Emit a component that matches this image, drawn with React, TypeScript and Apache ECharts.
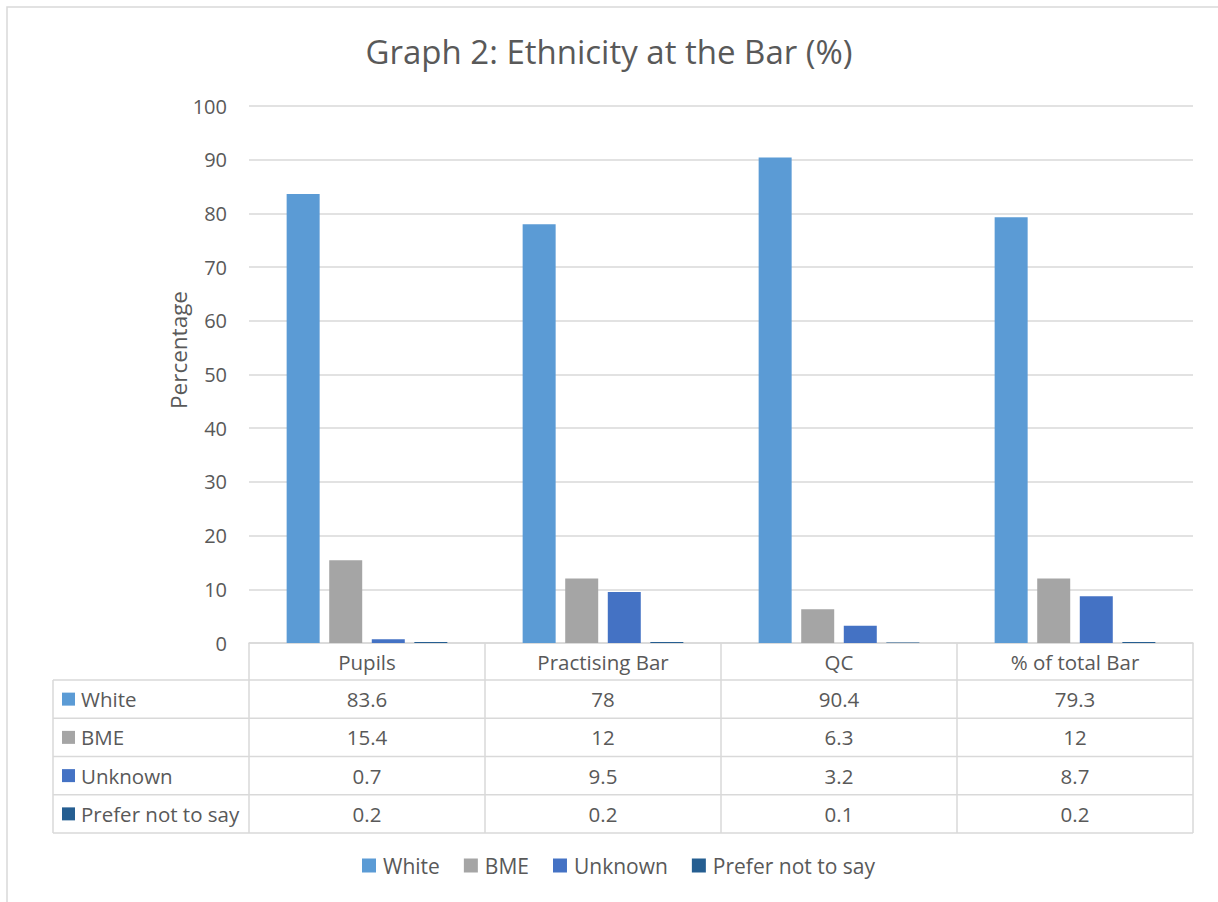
import React, { useEffect, useRef } from "react";
import * as echarts from "echarts";

const categories = ["Pupils", "Practising Bar", "QC", "% of total Bar"];
const seriesNames = ["White", "BME", "Unknown", "Prefer not to say"];
const white = [83.6, 78, 90.4, 79.3];
const bme = [15.4, 12, 6.3, 12];
const unknown = [0.7, 9.5, 3.2, 8.7];
const preferNot = [0.2, 0.2, 0.1, 0.2];
const colors = ["#5B9BD5", "#A5A5A5", "#4472C4", "#255E91"];

const FONT = "'Open Sans', 'Noto Sans', sans-serif";
const TEXT = "#595959";
const LINE = "#D9D9D9";

export default function App() {
  const ref = useRef<HTMLDivElement>(null);
  useEffect(() => {
    if (!ref.current) return;
    const chart = echarts.init(ref.current, null, { renderer: "svg" });
    const values = [white, bme, unknown, preferNot];

    const gridLeft = 249;
    const gridRight = 1193;
    const gridTop = 106;
    const gridBottom = 643;
    const W = 1218;
    const H = 902;
    const colW = (gridRight - gridLeft) / categories.length;
    const headerBottom = 680;
    const tableBottom = 833;
    const rowH = (tableBottom - headerBottom) / seriesNames.length;
    const tableLeft = 53;

    const g: any[] = [];
    g.push({
      type: "rect",
      shape: { x: 7, y: 7, width: 1400, height: 1200 },
      style: { fill: "none", stroke: LINE, lineWidth: 1.5 },
      silent: true,
    });
    g.push({
      type: "text",
      x: 178,
      y: 350,
      rotation: Math.PI / 2,
      style: {
        text: "Percentage",
        font: `22.5px ${FONT}`,
        fill: TEXT,
        align: "center",
        verticalAlign: "middle",
      },
    });
    const lineStyle = { stroke: LINE, lineWidth: 1.5 };
    for (let i = 0; i <= categories.length; i++) {
      const x = gridLeft + i * colW;
      g.push({ type: "line", shape: { x1: x, y1: gridBottom, x2: x, y2: tableBottom }, style: lineStyle });
    }
    g.push({ type: "line", shape: { x1: tableLeft, y1: headerBottom, x2: tableLeft, y2: tableBottom }, style: lineStyle });
    for (let r = 0; r <= seriesNames.length; r++) {
      const y = headerBottom + r * rowH;
      g.push({ type: "line", shape: { x1: tableLeft, y1: y, x2: gridRight, y2: y }, style: lineStyle });
    }
    categories.forEach((c, i) => {
      g.push({
        type: "text",
        x: gridLeft + (i + 0.5) * colW,
        y: (gridBottom + headerBottom) / 2,
        style: { text: c, font: `20.5px ${FONT}`, fill: TEXT, align: "center", verticalAlign: "middle" },
      });
    });
    seriesNames.forEach((s, r) => {
      const cy = headerBottom + (r + 0.5) * rowH;
      g.push({
        type: "rect",
        shape: { x: 62, y: cy - 6.5, width: 13, height: 13 },
        style: { fill: colors[r] },
      });
      g.push({
        type: "text",
        x: 81,
        y: cy,
        style: { text: s, font: `20.5px ${FONT}`, fill: TEXT, align: "left", verticalAlign: "middle" },
      });
      values[r].forEach((v, i) => {
        g.push({
          type: "text",
          x: gridLeft + (i + 0.5) * colW,
          y: cy,
          style: { text: String(v), font: `20.5px ${FONT}`, fill: TEXT, align: "center", verticalAlign: "middle" },
        });
      });
    });

    chart.setOption({
      animation: false,
      backgroundColor: "#FFFFFF",
      textStyle: { fontFamily: FONT, color: TEXT },
      title: {
        text: "Graph 2: Ethnicity at the Bar (%)",
        left: "center",
        top: 30,
        textStyle: { fontFamily: FONT, fontSize: 33, fontWeight: "normal", color: TEXT },
      },
      legend: {
        data: seriesNames,
        bottom: 21,
        left: 357,
        icon: "rect",
        itemWidth: 14,
        itemHeight: 14,
        itemGap: 24,
        textStyle: { fontFamily: FONT, fontSize: 21, color: TEXT, padding: [0, 0, 0, 2] },
      },
      grid: {
        left: gridLeft,
        right: W - gridRight,
        top: gridTop,
        bottom: H - gridBottom,
        containLabel: false,
      },
      xAxis: {
        type: "category",
        data: categories,
        axisLine: { show: true, lineStyle: { color: LINE, width: 1.5 } },
        axisTick: { show: false },
        axisLabel: { show: false },
      },
      yAxis: {
        type: "value",
        min: 0,
        max: 100,
        interval: 10,
        axisLine: { show: false },
        axisTick: { show: false },
        axisLabel: { fontFamily: FONT, fontSize: 20, color: TEXT, margin: 22 },
        splitLine: { lineStyle: { color: LINE, width: 1.5 } },
      },
      series: seriesNames.map((name, i) => ({
        name,
        type: "bar",
        data: values[i],
        barWidth: 33,
        barGap: "29%",
        itemStyle: { color: colors[i] },
      })),
      graphic: g,
    });
    return () => chart.dispose();
  }, []);
  return (
    <div
      ref={ref}
      style={{ position: "absolute", left: 0, top: 0, width: 1218, height: 902 }}
    />
  );
}
